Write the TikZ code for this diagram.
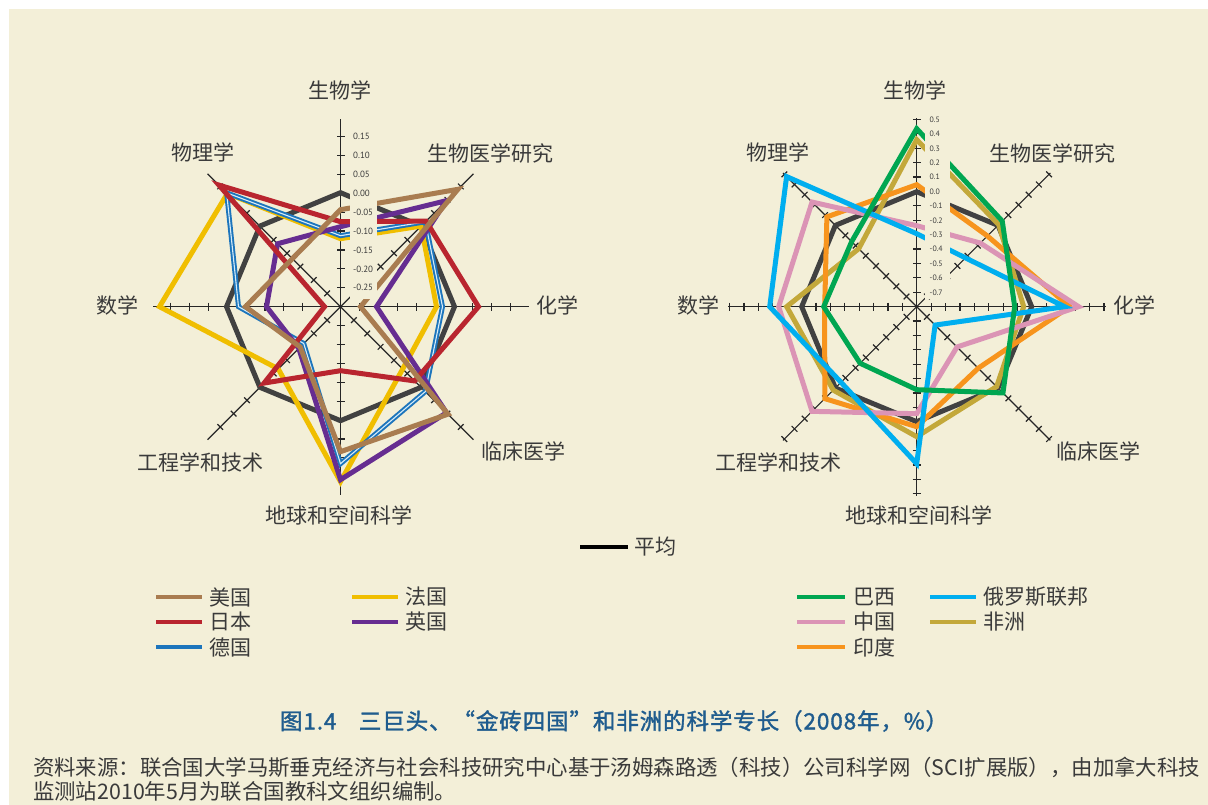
\documentclass[tikz,border=0pt]{standalone}
\usepackage{fontspec}
\setmainfont{Noto Sans CJK SC}
\newfontfamily\numfont{PT Sans}
\newfontfamily\capfont{Noto Sans CJK SC}[FakeBold=1.6,LetterSpace=4]

\definecolor{bg}{HTML}{F3EFD8}
\definecolor{txt}{HTML}{3A3A3A}
\definecolor{cavg}{HTML}{414141}
\definecolor{cusa}{HTML}{A97C50}
\definecolor{cjpn}{HTML}{B9252F}
\definecolor{cdeu}{HTML}{1C75BC}
\definecolor{cdeuin}{HTML}{D6ECF8}
\definecolor{cfra}{HTML}{F0BE00}
\definecolor{cgbr}{HTML}{662D91}
\definecolor{cbra}{HTML}{00A651}
\definecolor{cchn}{HTML}{DB94B5}
\definecolor{cind}{HTML}{F7941D}
\definecolor{crus}{HTML}{00AEEF}
\definecolor{cafr}{HTML}{C3A83A}
\definecolor{ccap}{HTML}{1F5C8E}

\tikzset{
  series/.style={line width=5pt, line join=miter, miter limit=5},
  innerline/.style={line width=1.1pt, line join=miter, miter limit=5, draw=cdeuin},
  axisline/.style={line width=1.2pt, draw=black!85},
  legline/.style={line width=3.3pt},
  lab/.style={font=\fontsize{21}{25}\selectfont, text=txt, inner sep=0pt},
  ticklabL/.style={font=\numfont\fontsize{9}{10}\selectfont, anchor=west, inner sep=0pt, text=txt},
  ticklabR/.style={font=\numfont\fontsize{7.8}{9}\selectfont, anchor=west, inner sep=0pt, text=txt},
  srctext/.style={font=\fontsize{21.4}{25}\selectfont, text=txt, anchor=west, inner sep=0pt},
}

\newcommand{\radarline}[9]{\draw[#1] (90:#2) -- (45:#3) -- (0:#4) -- (-45:#5) -- (-90:#6) -- (-135:#7) -- (180:#8) -- (135:#9) -- cycle;}
\newcommand{\axisray}[4]{%
  \begin{scope}[rotate=#1]
    \draw[axisline] (0,0) -- (#2,0);
    \foreach \k in {1,...,#4} \draw[axisline] (\k*#3,-4) -- (\k*#3,4);
  \end{scope}}

\begin{document}
\begin{tikzpicture}[x=1pt,y=1pt]
\useasboundingbox (0,0) rectangle (1208,805);
\fill[white] (0,0) rectangle (1208,805);
\fill[bg] (9,0) rectangle (1208,796);

% ---------------- left chart ----------------
\begin{scope}[shift={(340.5,498.3)}]
  \foreach \a in {0,45,90,135,180,-45,-90,-135} {\axisray{\a}{188}{18.9}{9}}
  \radarline{series,cavg}{114}{114}{114}{114}{114}{114}{114}{114}
  \radarline{series,cfra}{68}{114}{96}{88}{175}{88}{181}{160}
  \radarline{series,cdeu}{71}{120}{102}{120}{157}{52}{102}{161}
  \radarline{innerline}{71}{120}{102}{120}{157}{52}{102}{161}
  \radarline{series,cgbr}{80}{150}{36}{150}{173}{59}{74}{89}
  \radarline{series,cjpn}{85}{121}{138}{105}{64}{108}{16}{172}
  \radarline{series,cusa}{97}{166}{20}{152}{145}{57}{95}{68}
  \fill[bg] (9,7.7) rectangle (36.5,180);
  \foreach \t [count=\k] in {-0.25,-0.20,-0.15,-0.10,-0.05,0.00,0.05,0.10,0.15}
    \node[ticklabL] (lt\k) at (12.5,\k*18.9) {\t};
\end{scope}

% ---------------- right chart ----------------
\begin{scope}[shift={(916.7,498.3)}]
  \foreach \a in {0,45,90,135,180,-45,-90,-135} {\axisray{\a}{189}{14.4}{13}}
  \radarline{series,cavg}{115}{115}{115}{115}{115}{115}{115}{115}
  \radarline{series,cafr}{167}{116}{107}{113}{130}{118}{130}{82}
  \radarline{series,cind}{122}{100}{153}{87}{120}{130}{92}{127}
  \radarline{series,cchn}{81}{90}{162}{57}{107}{148}{138}{148}
  \radarline{series,crus}{73}{69}{148}{26}{157}{107}{147}{184}
  \radarline{series,cbra}{178}{121}{98}{122}{83}{80}{93}{92}
  \fill[bg] (8,7.7) rectangle (33.3,195);
  \foreach \t [count=\k] in {-0.7,-0.6,-0.5,-0.4,-0.3,-0.2,-0.1,0.0,0.1,0.2,0.3,0.4,0.5}
    \node[ticklabR] (rt\k) at (12.8,\k*14.4) {\t};
\end{scope}

% ---------------- axis labels ----------------
\node[lab] (Lbio)   at (340,714.3)   {生物学};
\node[lab] (Lbmed)  at (490.7,652)   {生物医学研究};
\node[lab] (Lchem)  at (557.5,500)   {化学};
\node[lab] (Lclin)  at (523,353.3)   {临床医学};
\node[lab] (Learth) at (339,290)     {地球和空间科学};
\node[lab] (Leng)   at (200,342.3)   {工程学和技术};
\node[lab] (Lmath)  at (117,500)     {数学};
\node[lab] (Lphys)  at (202.7,652.3) {物理学};

\node[lab] (Rbio)   at (915,714.3)   {生物学};
\node[lab] (Rbmed)  at (1052.7,652)  {生物医学研究};
\node[lab] (Rchem)  at (1134,500)    {化学};
\node[lab] (Rclin)  at (1098,353.3)  {临床医学};
\node[lab] (Rearth) at (918.7,290)   {地球和空间科学};
\node[lab] (Reng)   at (778,342.3)   {工程学和技术};
\node[lab] (Rmath)  at (698,500)     {数学};
\node[lab] (Rphys)  at (778,652.3)   {物理学};

% ---------------- legend ----------------
\draw[legline,black] (580,258) -- (628,258);
\node[lab,anchor=west] (gAvg) at (634,258) {平均};

\draw[legline,cusa] (156,208) -- (202,208);
\node[lab,anchor=west] (gUSA) at (209,208) {美国};
\draw[legline,cjpn] (156,183) -- (202,183);
\node[lab,anchor=west] (gJPN) at (209,183) {日本};
\draw[legline,cdeu] (156,158) -- (202,158);
\node[lab,anchor=west] (gDEU) at (209,158) {德国};
\draw[legline,cfra] (352,208) -- (398,208);
\node[lab,anchor=west] (gFRA) at (405,208) {法国};
\draw[legline,cgbr] (352,183) -- (398,183);
\node[lab,anchor=west] (gGBR) at (405,183) {英国};

\draw[legline,cbra] (797,208) -- (845,208);
\node[lab,anchor=west] (gBRA) at (853,208) {巴西};
\draw[legline,cchn] (797,183) -- (845,183);
\node[lab,anchor=west] (gCHN) at (853,183) {中国};
\draw[legline,cind] (797,158) -- (845,158);
\node[lab,anchor=west] (gIND) at (853,158) {印度};
\draw[legline,crus] (930,208) -- (976,208);
\node[lab,anchor=west] (gRUS) at (983,208) {俄罗斯联邦};
\draw[legline,cafr] (930,183) -- (976,183);
\node[lab,anchor=west] (gAFR) at (983,183) {非洲};

% ---------------- caption and source ----------------
\node[font=\capfont\fontsize{22.5}{26}\selectfont, text=ccap, inner sep=0pt] (cap) at (614,84)
  {图1.4\quad 三巨头、“金砖四国”和非洲的科学专长（2008年，\%）};
\node[srctext] (src1) at (33,38)
  {资料来源：联合国大学马斯垂克经济与社会科技研究中心基于汤姆森路透（科技）公司科学网（SCI扩展版），由加拿大科技};
\node[srctext] (src2) at (33,14)
  {监测站2010年5月为联合国教科文组织编制。};
\end{tikzpicture}
\end{document}
